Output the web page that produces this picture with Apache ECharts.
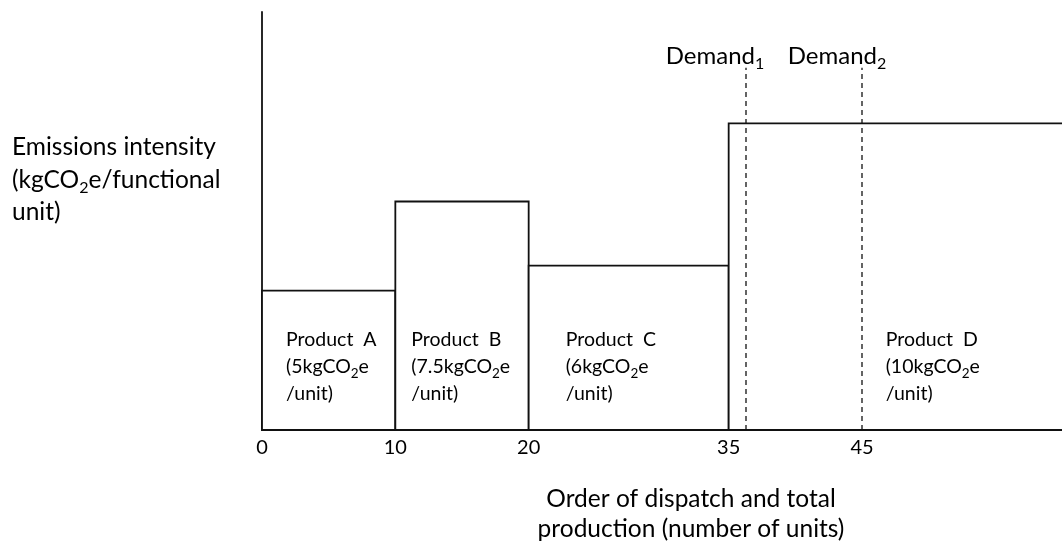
<!DOCTYPE html>
<html><head><meta charset="utf-8">
<script src="https://cdn.jsdelivr.net/npm/echarts@6/dist/echarts.min.js"></script>
<style>html,body{margin:0;padding:0;background:#fff}#c{width:1062px;height:545px}</style>
</head><body><div id="c"></div>
<script>
// ---- data ----
const productNames = ['A', 'B', 'C', 'D'];
const nominalIntensity = ['5', '7.5', '6', '10'];
const dispatchStart = [0, 10, 20, 35];
const dispatchEnd = [10, 20, 35, 61];
const barHeight = [5.0, 8.2, 5.9, 11.0];
const demandIndex = ['1', '2'];
const demandX = [36.3, 45];
const demandTop = [13, 13];
const xTickValues = [0, 10, 20, 35, 45];

// ---- style ----
const FONT = 'Lato';
const INK = '#000';
const labelDx = [24, 16, 37, 157];
const demandDx = [-31, -25];
const sub = (size, lh) => ({ fontSize: size, fontFamily: FONT, fill: INK, verticalAlign: 'bottom', lineHeight: lh });

const barData = productNames.map((n, i) => [dispatchStart[i], dispatchEnd[i], barHeight[i], i]);
const demandData = demandX.map((x, i) => [x, demandTop[i], i]);

const chart = echarts.init(document.getElementById('c'));
chart.setOption({
  animation: false,
  backgroundColor: '#fff',
  grid: { left: 262, right: 0, top: 12, bottom: 115, containLabel: false },
  xAxis: {
    type: 'value', min: 0, max: 60,
    axisLine: { show: true, lineStyle: { color: '#111', width: 1.8 } },
    axisTick: { show: false },
    splitLine: { show: false },
    axisLabel: { customValues: xTickValues, fontFamily: FONT, fontSize: 20, color: INK, margin: 8 }
  },
  yAxis: {
    type: 'value', min: 0, max: 15,
    axisLine: { show: true, onZero: false, lineStyle: { color: '#111', width: 1.8 } },
    axisTick: { show: false },
    axisLabel: { show: false },
    splitLine: { show: false }
  },
  graphic: [
    {
      type: 'text', x: 12, y: 131,
      style: {
        text: 'Emissions intensity\n(kgCO{s|2}e/functional\nunit)',
        fontFamily: FONT, fontSize: 24.5, lineHeight: 32.5, fill: INK,
        align: 'left', verticalAlign: 'top',
        rich: { s: sub(16, 19) }
      }
    },
    {
      type: 'text', x: 691, y: 484,
      style: {
        text: 'Order of dispatch and total\nproduction (number of units)',
        fontFamily: FONT, fontSize: 24.5, lineHeight: 30, fill: INK,
        align: 'center', verticalAlign: 'top'
      }
    }
  ],
  series: [
    {
      type: 'custom',
      data: barData,
      encode: { x: [0, 1], y: 2 },
      renderItem: function (params, api) {
        const i = api.value(3);
        const p0 = api.coord([api.value(0), api.value(2)]);
        const p1 = api.coord([api.value(1), 0]);
        return {
          type: 'group',
          children: [
            {
              type: 'rect',
              shape: { x: p0[0], y: p0[1], width: p1[0] - p0[0], height: p1[1] - p0[1] },
              style: { fill: '#fff', stroke: '#111', lineWidth: 1.8 }
            },
            {
              type: 'text',
              x: p0[0] + labelDx[i], y: p1[1] - 103.5,
              style: {
                text: 'Product  ' + productNames[i] + '\n(' + nominalIntensity[i] + 'kgCO{s|2}e\n/unit)',
                fontFamily: FONT, fontSize: 19.5, lineHeight: 27, fill: INK,
                align: 'left', verticalAlign: 'top',
                rich: { s: sub(13.5, 15) }
              }
            }
          ]
        };
      }
    },
    {
      type: 'custom',
      data: demandData,
      encode: { x: 0, y: 1 },
      z: 5,
      renderItem: function (params, api) {
        const i = api.value(2);
        const b = api.coord([api.value(0), 0]);
        const t = api.coord([api.value(0), api.value(1)]);
        return {
          type: 'group',
          children: [
            {
              type: 'line',
              shape: { x1: b[0], y1: b[1], x2: t[0], y2: t[1] },
              style: { stroke: '#111', lineWidth: 1.3, lineDash: [5, 4] }
            },
            {
              type: 'text',
              x: t[0] + demandDx[i], y: t[1] - 11,
              style: {
                text: 'Demand{s|' + demandIndex[i] + '}',
                fontFamily: FONT, fontSize: 24, lineHeight: 30, fill: INK,
                align: 'center', verticalAlign: 'middle',
                rich: { s: sub(16, 18) }
              }
            }
          ]
        };
      }
    }
  ]
});
</script>
</body></html>
